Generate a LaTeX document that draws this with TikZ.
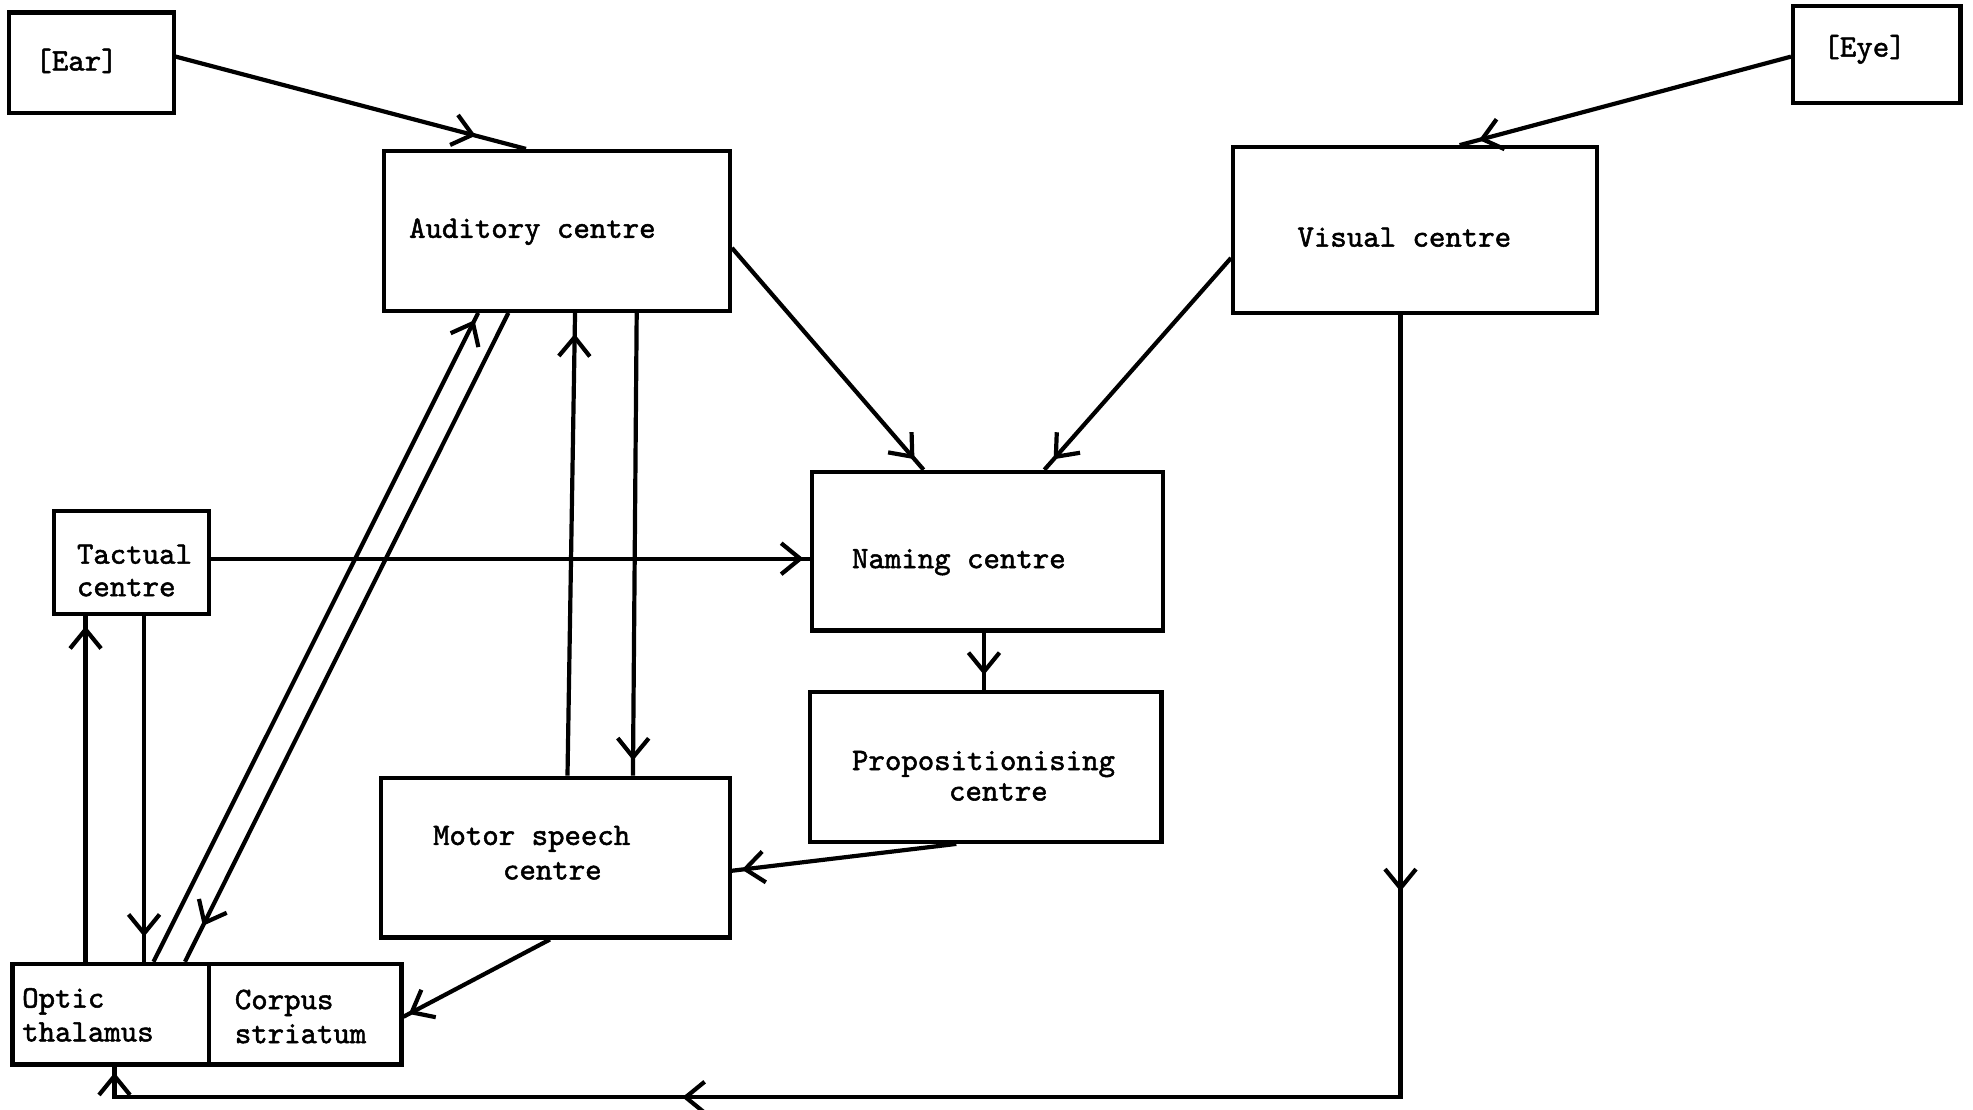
\documentclass[tikz,border=0pt]{standalone}
\usepackage{fontspec}
\newfontfamily\typewriter{lmmono10-regular.otf}[FakeBold=1.6]
\usetikzlibrary{arrows.meta,decorations.markings,fit}
\begin{document}
\begin{tikzpicture}[x=1.2583pt,y=-1.2583pt,
  >={Straight Barb[length=19pt,width=31pt]},
  box/.style={draw, line width=4.2pt, inner sep=0pt, rectangle},
  lbl/.style={font=\fontsize{31.3pt}{#1}\selectfont\typewriter,
              inner sep=0pt, anchor=base west, align=left},
  lbl/.default=33pt,
  wire/.style={line width=4.2pt},
  tipat/.style={postaction={decorate},
    decoration={markings, mark=at position #1 with {\arrow{>}}}},
  tipsat/.style n args={3}{postaction={decorate},
    decoration={markings,
      mark=at position #1 with {\arrow{>}},
      mark=at position #2 with {\arrow{>}},
      mark=at position #3 with {\arrow{>}}}}]

\useasboundingbox (0,0) rectangle (1568,882);

% boxes
\node[box, fit={(7,10) (138,90)}]      (ear)  {};
\node[box, fit={(1425,5) (1558,82)}]   (eye)  {};
\node[box, fit={(305,120) (580,247)}]  (aud)  {};
\node[box, fit={(980,117) (1269,249)}] (vis)  {};
\node[box, fit={(645,375) (924,501)}]  (nam)  {};
\node[box, fit={(644,550) (923,669)}]  (prop) {};
\node[box, fit={(43,406) (166,488)}]   (tac)  {};
\node[box, fit={(303,618) (580,745)}]  (mot)  {};
\node[box, fit={(10,766) (166,846)}]   (opt)  {};
\node[box, fit={(166,766) (319,846)}]  (corp) {};

% labels (multi-line labels are placed by the baseline of their last line)
\node[lbl] (earT)  at (28,56)     {[Ear]};
\node[lbl] (eyeT)  at (1449,45)   {[Eye]};
\node[lbl] (audT)  at (325,189)   {Auditory centre};
\node[lbl] (visT)  at (1031,196)  {Visual centre};
\node[lbl] (namT)  at (677,451.5) {Naming centre};
\node[lbl=30.5pt] (propT) at (677,636.2)  {Propositionising\\\hspace*{97pt}centre};
\node[lbl=34.5pt] (motT)  at (344,698.9)  {Motor speech\\\hspace*{70pt}centre};
\node[lbl=32.5pt] (tacT)  at (61,473.8)   {Tactual\\centre};
\node[lbl=33.8pt] (optT)  at (17.5,827.6) {Optic\\thalamus};
\node[lbl=34pt]   (corpT) at (186.5,829)  {Corpus\\striatum};

% connectors
\draw[wire, tipat=-52pt] (ear.east |- 0,45)   -- (aud.north -| 418,0);
\draw[wire, tipat=-20pt] (eye.west |- 0,45)   -- (vis.north -| 1160,0);
\draw[wire, tipat=-14pt] (aud.east |- 0,197)  -- (nam.north -| 734,0);
\draw[wire, tipat=-14pt] (vis.west |- 0,205)  -- (nam.north -| 830,0);
\draw[wire, tipat=-6pt]  (tac.east |- 0,444)  -- (nam.west |- 0,444);
\draw[wire, tipat=-15pt] (nam.south -| 782,0) -- (prop.north -| 782,0);
\draw[wire, tipat=-10pt] (prop.south -| 760,0) -- (mot.east |- 0,692);
\draw[wire, tipat=-6pt]  (mot.south -| 437,0) -- (corp.east |- 0,808);
\draw[wire, tipat=-21pt] (mot.north -| 451,0) -- (aud.south -| 457,0);
\draw[wire, tipat=-15pt] (aud.south -| 506,0) -- (mot.north -| 503,0);
\draw[wire, tipat=-10pt] (opt.north -| 68,0)  -- (tac.south -| 68,0);
\draw[wire, tipat=-25pt] (tac.south -| 114.5,0) -- (opt.north -| 114.5,0);
\draw[wire, tipat=-8pt]  (opt.north -| 122,0) -- (aud.south -| 380,0);
\draw[wire, tipat=-40pt] (aud.south -| 404,0) -- (opt.north -| 147,0);
\draw[wire, tipsat={576pt}{1500pt}{-6pt}]
  (vis.south -| 1113,0) -- (1113,872) -| (opt.south -| 91,0);

\end{tikzpicture}
\end{document}
